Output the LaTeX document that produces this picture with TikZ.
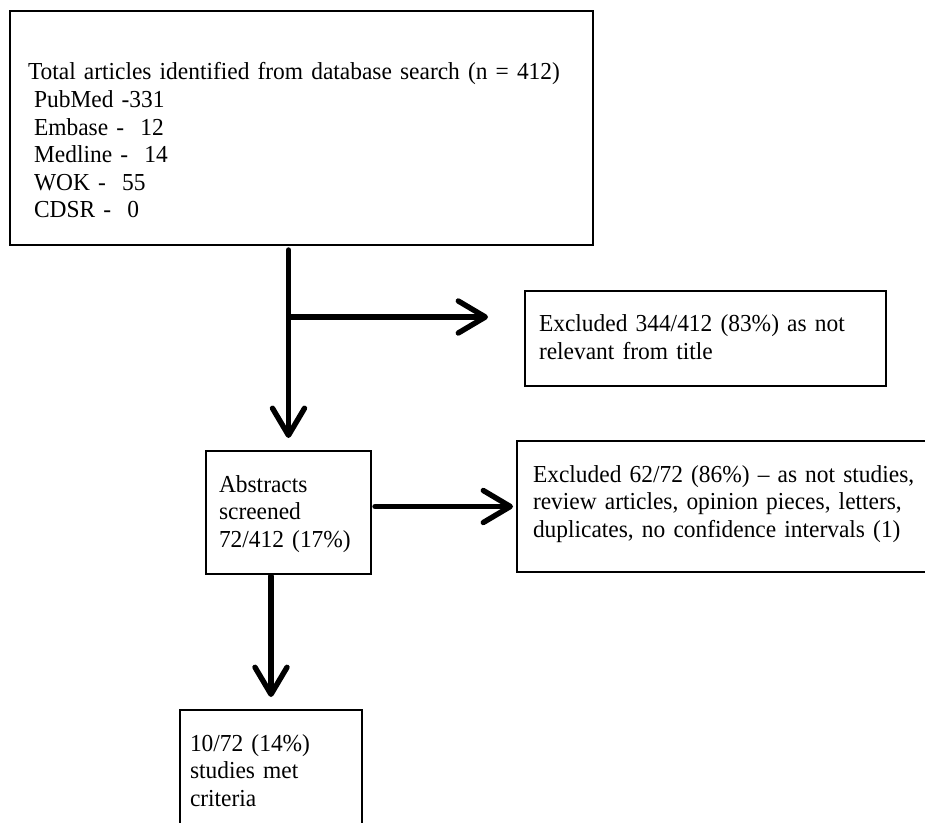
\documentclass[tikz,border=0pt]{standalone}
\usepackage{fontspec}
\setmainfont{Liberation Serif}[FakeStretch=0.96]
\usetikzlibrary{arrows.meta}
\hyphenpenalty=10000

\tikzset{
  box/.style={draw, line width=1pt, align=left, inner ysep=0pt, outer sep=0pt,
    anchor=base west, font=\fontsize{12.2}{13.8}\selectfont},
  flow/.style={line width=2.7pt, line cap=round,
    -{Straight Barb[length=13.5pt,width=16pt,round]}},
}

\begin{document}
\begin{tikzpicture}[x=0.5pt,y=-0.5pt]
                \useasboundingbox (0,0) rectangle (925,823);
                \clip (0,0) rectangle (925,823);
                % boxes
                \node[box, inner xsep=9pt, text width=273.5pt, text height=34.5pt, text depth=82.5pt] (total) at (10,80)
                  {Total articles identified from database search (n = 412)\\
                   \hspace*{.25em}PubMed -331\\
                   \hspace*{.25em}Embase -\ \ 12\\
                   \hspace*{.25em}Medline -\ \ 14\\
                   \hspace*{.25em}WOK -\ \ 55\\
                   \hspace*{.25em}CDSR -\ \ 0};
                \node[box, inner xsep=7pt, text width=166.5pt, text height=20.5pt, text depth=27pt] (excluded1) at (525,332)
                  {Excluded 344/412 (83\%) as not\\ relevant from title};
                \node[box, inner xsep=6.5pt, text width=69.5pt, text height=20.5pt, text depth=41pt] (abstracts) at (206,492)
                  {Abstracts\\ screened\\ 72/412 (17\%)};
                \node[box, inner xsep=8pt, text width=200pt, text height=20.5pt, text depth=45pt] (excluded2) at (517,482)
                  {Excluded 62/72 (86\%) – as not studies,\\ review articles, opinion pieces, letters,\\ duplicates, no confidence intervals (1)};
                \node[box, inner xsep=5pt, text width=81pt, text height=20.5pt, text depth=45pt] (met) at (180,751)
                  {10/72 (14\%)\\ studies met\\ criteria};
                % arrows
                \coordinate (split) at (289,317);
                \draw[flow, shorten <=2.5pt, shorten >=6.5pt] (total.south -| abstracts.north) -- (abstracts.north);
                \draw[flow, shorten >=18.5pt] (split) -- (split -| excluded1.west);
                \draw[flow, shorten <=2pt, shorten >=2pt] (abstracts.east |- excluded2.west) -- (excluded2.west);
                \draw[flow, shorten <=1pt, shorten >=6.5pt] (abstracts.south -| met.north) -- (met.north);
            \end{tikzpicture}
\end{document}
